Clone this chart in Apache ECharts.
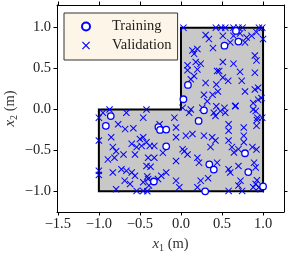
<!DOCTYPE html>
<html>
<head>
<meta charset="utf-8">
<script src="https://cdn.jsdelivr.net/npm/echarts@6/dist/echarts.min.js"></script>
<style>html,body{margin:0;padding:0;background:#fff}#c{width:289px;height:253px}</style>
</head>
<body>
<div id="c"></div>
<script>
// L-shaped domain vertices
const domainVerts = [[-1,-1],[1,-1],[1,1],[0,1],[0,0],[-1,0]];
const xTicks = [-1.5,-1.0,-0.5,0.0,0.5,1.0];
const yTicks = [-1.0,-0.5,0.0,0.5,1.0];

const trainingPts = [
[0.67,0.96],[0.70,0.83],[0.53,0.78],[0.085,0.30],[0.03,0.125],[0.28,-0.01],[0.215,-0.14],
[-0.855,-0.08],[-0.915,-0.20],[-0.275,-0.215],[-0.255,-0.25],[-0.18,-0.245],[-0.18,-0.45],
[-0.33,-0.88],[0.345,-0.67],[0.40,-0.735],[0.295,-1.0],[0.78,-0.535],[0.82,-0.765],[1.0,-0.94]
];

const validationPts = [
// upper arm
[0.03,1.0],[0.425,1.0],[0.49,1.0],[0.54,1.0],[0.64,1.0],[0.70,1.0],[0.75,1.0],[0.95,1.0],[0.99,1.0],
[0.30,0.91],[0.34,0.86],[0.51,0.90],[0.64,0.90],[0.80,0.88],[0.86,0.90],[0.92,0.945],[0.60,0.82],
[0.78,0.82],[1.0,0.86],[0.72,0.93],
[0.39,0.75],[0.14,0.72],[0.20,0.74],[0.16,0.68],[0.18,0.58],[0.24,0.56],[0.08,0.54],[0.51,0.58],
[0.64,0.56],[0.90,0.66],[0.92,0.60],
[0.08,0.48],[0.20,0.49],[0.16,0.41],[0.12,0.37],[0.30,0.325],[0.465,0.47],[0.43,0.305],[0.28,0.18],
[0.385,0.18],[0.32,0.10],[0.26,0.02],[0.12,0.0],[0.02,0.02],[0.43,0.04],[0.72,0.46],[0.90,0.45],
[0.51,0.39],[0.575,0.35],[0.74,0.35],[0.78,0.22],[0.90,0.245],[0.94,0.265],[0.94,0.12],[0.98,0.14],
[0.88,0.08],[0.53,0.02],[0.66,0.04],[0.88,0.0],[0.44,0.47],[0.45,0.22],
// lower arm
[-1.0,-0.10],[-0.95,-0.04],[-0.87,0.0],[-0.665,-0.04],[-0.46,-0.10],[-0.42,0.0],[-0.765,-0.18],
[-0.68,-0.24],[-0.58,-0.23],[-0.85,-0.34],[-0.83,-0.46],[-1.0,-0.38],[-0.60,-0.42],[-0.50,-0.36],
[-0.46,-0.34],[-0.42,-0.40],[-0.48,-0.445],[-0.38,-0.445],[-0.54,-0.46],
[-0.08,-0.10],[-0.26,-0.18],[0.10,-0.04],[-0.06,-0.22],[-0.06,-0.34],[0.06,-0.32],[0.14,-0.30],
[0.28,-0.32],[-0.325,-0.445],[0.02,-0.485],
[0.40,-0.04],[0.48,-0.02],[0.54,-0.04],[0.665,0.045],[0.42,-0.08],[0.91,-0.02],[0.93,-0.10],
[0.99,-0.10],[0.58,-0.18],[0.58,-0.26],[0.765,-0.22],[0.765,-0.32],[0.38,-0.34],[0.42,-0.38],
[0.58,-0.38],[0.765,-0.40],[0.62,-0.46],[0.70,-0.485],[0.87,-0.46],[0.36,-0.46],[0.925,-0.13],[0.92,-0.20],
[-0.89,-0.61],[-0.81,-0.59],[-0.79,-0.51],[-0.70,-0.55],[-0.56,-0.55],[-1.0,-0.75],[-1.0,-0.80],
[-0.83,-0.77],[-0.725,-0.73],[-0.665,-0.75],[-0.60,-0.77],[-0.56,-0.81],[-0.685,-0.87],[-0.62,-0.91],
[-0.79,-0.975],[-0.54,-0.995],[-0.46,-0.995],[-0.41,-1.0],[-0.42,-0.69],[-0.40,-0.59],[-0.40,-0.85],
[-0.46,-0.89],[-0.37,-0.70],[-0.41,-0.82],[-0.39,-0.93],
[-0.325,-0.59],[-0.22,-0.53],[-0.28,-0.85],[-0.18,-0.77],[-0.24,-0.81],[-0.06,-0.63],[0.08,-0.55],
[0.04,-0.51],[0.20,-0.59],[0.22,-0.65],[-0.06,-0.87],[-0.02,-0.95],[0.20,-0.95],[0.24,-0.87],[0.33,-0.84],
[0.44,-0.65],[0.58,-0.73],[0.60,-0.77],[0.70,-0.69],[0.89,-0.65],[0.91,-0.71],[0.725,-0.87],
[0.70,-0.93],[0.58,-0.995],[0.745,-0.995],[0.91,-0.91],[0.95,-0.95],[0.97,-0.975],[0.645,-0.525],
[0.92,-0.49],[0.925,-0.865],[0.88,-0.95]
];

const FONT = 'Liberation Serif';
const fmt = v => (v < 0 ? '\u2212' + Math.abs(v).toFixed(1) : v.toFixed(1));
const crossPath = 'path://M0,1L1,0L5,4L9,0L10,1L6,5L10,9L9,10L5,6L1,10L0,9L4,5Z';

const axisCommon = {
  type: 'value',
  splitLine: { show: false },
  axisLine: { show: true, onZero: false, lineStyle: { color: '#000', width: 1 } },
};
const nameRich = {
  i: { fontFamily: FONT, fontStyle: 'italic', fontSize: 15, color: '#333' },
  s: { fontFamily: FONT, fontSize: 10, color: '#333', padding: [7, 0, 0, 0] },
  t: { fontFamily: FONT, fontSize: 14.5, color: '#333' }
};

const chart = echarts.init(document.getElementById('c'), null, { renderer: 'canvas' });
chart.setOption({
  animation: false,
  grid: { left: 57, right: 5, top: 5, bottom: 41, containLabel: false, outerBoundsMode: 'none' },
  legend: {
    data: ['Training', 'Validation'],
    orient: 'vertical',
    left: 64, top: 13,
    padding: [6, 6, 7, 17],
    itemGap: 4,
    itemWidth: 8, itemHeight: 8,
    backgroundColor: '#fdf5e8',
    borderColor: '#333', borderWidth: 1, borderRadius: 0,
    textStyle: { fontFamily: FONT, fontSize: 14.5, color: '#222', padding: [0, 0, 0, 17] }
  },
  xAxis: [
    Object.assign({}, axisCommon, {
      min: -1.51, max: 1.255, position: 'bottom',
      axisTick: { show: true, length: 3.5, customValues: xTicks, lineStyle: { color: '#000' } },
      axisLabel: { customValues: xTicks, formatter: fmt, fontFamily: FONT, fontSize: 14.5, color: '#222', margin: 5 },
      name: '{i|x}{s|1}{t| (m)}', nameLocation: 'middle', nameGap: 24, nameMoveOverlap: false,
      nameTextStyle: { rich: nameRich }
    }),
    Object.assign({}, axisCommon, {
      min: -1.51, max: 1.255, position: 'top',
      axisTick: { show: true, length: 3.5, customValues: xTicks, lineStyle: { color: '#000' } },
      axisLabel: { show: false }
    })
  ],
  yAxis: [
    Object.assign({}, axisCommon, {
      min: -1.253, max: 1.277, position: 'left',
      axisTick: { show: true, length: 3.5, customValues: yTicks, lineStyle: { color: '#000' } },
      axisLabel: { customValues: yTicks, formatter: fmt, fontFamily: FONT, fontSize: 14.5, color: '#222', margin: 6 },
      name: '{i|x}{s|2}{t| (m)}', nameLocation: 'middle', nameGap: 38, nameRotate: 90, nameMoveOverlap: false,
      nameTextStyle: { rich: nameRich }
    }),
    Object.assign({}, axisCommon, {
      min: -1.253, max: 1.277, position: 'right',
      axisTick: { show: true, length: 3.5, customValues: yTicks, lineStyle: { color: '#000' } },
      axisLabel: { show: false }
    })
  ],
  series: [
    {
      type: 'custom', name: 'domain', z: 1, silent: true,
      data: domainVerts,
      encode: { x: 0, y: 1 },
      renderItem: function (params, api) {
        if (params.dataIndex !== 0) return;
        const pts = domainVerts.map(p => api.coord(p));
        return {
          type: 'polygon',
          shape: { points: pts },
          style: { fill: '#c8c8c8', stroke: '#000', lineWidth: 2, lineJoin: 'miter' }
        };
      }
    },
    {
      type: 'scatter', name: 'Validation', z: 3,
      data: validationPts,
      symbol: crossPath, symbolSize: 7,
      itemStyle: { color: '#0000ff', opacity: 1 }
    },
    {
      type: 'scatter', name: 'Training', z: 4,
      data: trainingPts,
      symbol: 'circle', symbolSize: 6.5,
      itemStyle: { color: '#ffffff', borderColor: '#0000ff', borderWidth: 1.3, opacity: 1 }
    }
  ]
});
</script>
</body>
</html>
